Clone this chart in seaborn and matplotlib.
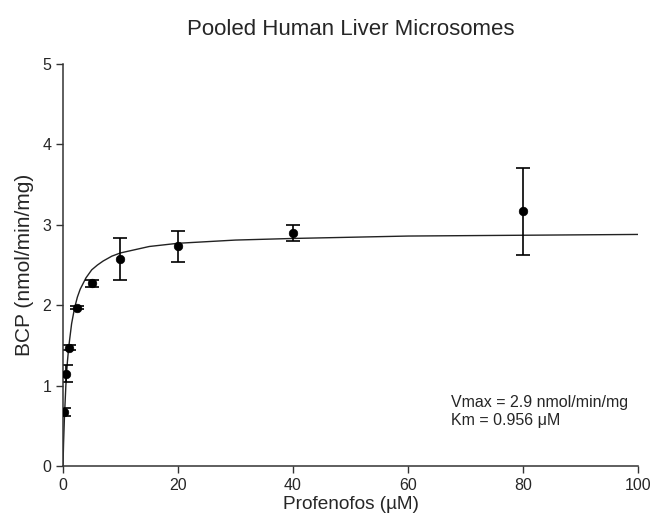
import numpy as np
import pandas as pd
from matplotlib import pyplot as plt
import seaborn as sns

sns.set_style('ticks')
plt.rcParams['font.family'] = ['Liberation Sans', 'DejaVu Sans']

# measured points (profenofos concentration, uM)
conc = [0.25, 0.5, 1, 2.5, 5, 10, 20, 40, 80]
bcp = [0.67, 1.15, 1.47, 1.97, 2.27, 2.57, 2.73, 2.90, 3.17]
bcp_err = [0.05, 0.11, 0.03, 0.02, 0.04, 0.26, 0.19, 0.10, 0.54]

# fitted curve
fit_x = [0, 0.1, 0.25, 0.5, 0.75, 1, 1.5, 2, 2.5, 3, 4, 5, 6, 7, 8.5, 10, 12.5, 15, 20,
         30, 40, 60, 80, 100]
fit_y = [0, 0.28, 0.60, 1.00, 1.28, 1.48, 1.77, 1.96, 2.10, 2.20, 2.34, 2.44, 2.50,
         2.55, 2.61, 2.65, 2.69, 2.73, 2.77, 2.81, 2.83, 2.86, 2.87, 2.88]

fig = plt.figure(figsize=(6.54, 5.16), dpi=100)
ax = fig.add_axes([0.0963, 0.0969, 0.8792, 0.7791])

sns.lineplot(x=fit_x, y=fit_y, ax=ax, color='#222222', linewidth=1.0)
ax.errorbar(conc, bcp, yerr=bcp_err, fmt='none', ecolor='black',
            elinewidth=1.2, capsize=4.8, capthick=1.2)
sns.scatterplot(x=conc, y=bcp, ax=ax, color='black', s=38, edgecolor='black',
                zorder=5)

ax.set_xlim(0, 100)
ax.set_ylim(0, 5)
ax.set_xticks([0, 20, 40, 60, 80, 100])
ax.set_yticks([0, 1, 2, 3, 4, 5])
ax.tick_params(direction='out', length=5, width=1, labelsize=11.5, color='#333333')
for s in ['left', 'bottom']:
    ax.spines[s].set_color('#333333')
    ax.spines[s].set_linewidth(1.1)
sns.despine(ax=ax)

ax.set_xlabel('Profenofos (µM)', fontsize=13.7, labelpad=2)
ax.set_ylabel('BCP (nmol/min/mg)', fontsize=15, labelpad=6)
ax.set_title('Pooled Human Liver Microsomes', fontsize=16, pad=21)

ax.text(67.5, 0.88, 'Vmax = 2.9 nmol/min/mg\nKm = 0.956 μM', fontsize=11.5,
        va='top', ha='left', linespacing=1.2)

plt.savefig('out.png', dpi=100)
